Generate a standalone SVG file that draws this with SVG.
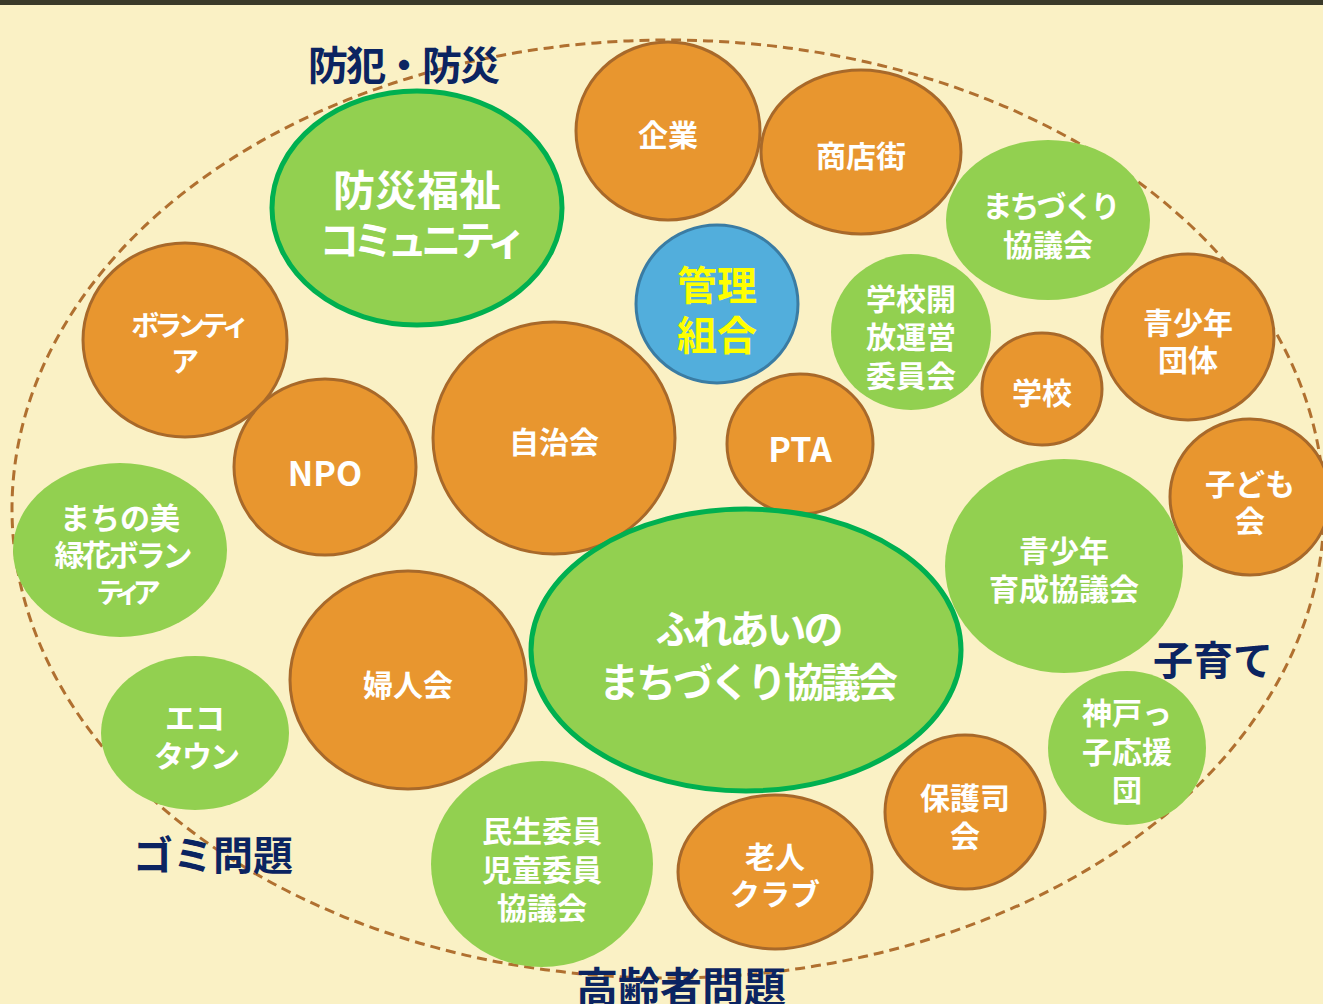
<svg xmlns="http://www.w3.org/2000/svg" width="1323" height="1004" viewBox="0 0 1323 1004">
<style>
text{font-family:"Noto Sans CJK JP","Noto Sans",sans-serif;font-weight:bold;text-anchor:middle;dominant-baseline:central}
.o{fill:#e8962f;stroke:#a8692a;stroke-width:3}
.g{fill:#92d050}
.gb{fill:#92d050;stroke:#00b050;stroke-width:5}
.b{fill:#52aedc;stroke:#3a7ca3;stroke-width:3}
.w{fill:#ffffff;font-size:30px}
.y{fill:#ffff00;font-size:40px}
.t{fill:#0b2461;font-size:40px}
</style>
<rect width="1323" height="1004" fill="#faf1c5"/>
<rect width="1323" height="5" fill="#3a3a2a"/>
<g id="connectors">
<ellipse cx="668" cy="509" rx="656" ry="469" fill="none" stroke="#b07030" stroke-width="3" stroke-dasharray="10 6"/>
</g>
<g id="label-bohan"><text class="t" x="403" y="63" letter-spacing="-2">防犯・防災</text></g>
<g id="label-kosodate"><text class="t" x="1213" y="658">子育て</text></g>
<g id="label-gomi"><text class="t" x="213" y="853">ゴミ問題</text></g>
<g id="label-koreisha"><text class="t" style="font-size:42px" x="681" y="984">高齢者問題</text></g>

<g id="kigyo"><ellipse class="o" cx="668" cy="131" rx="92" ry="89"/><text class="w" x="668" y="133">企業</text></g>
<g id="shotengai"><ellipse class="o" cx="861" cy="152" rx="100" ry="82"/><text class="w" x="861" y="154">商店街</text></g>
<g id="bousai"><ellipse class="gb" cx="417" cy="208" rx="145" ry="117"/><text class="w" style="font-size:42px" x="417" y="187">防災福祉</text><text class="w" style="font-size:40px" letter-spacing="-6" x="420" y="238">コミュニティ</text></g>
<g id="machizukuri"><ellipse class="g" cx="1048" cy="220" rx="102" ry="80"/><text class="w" letter-spacing="-3" x="1050" y="204">まちづくり</text><text class="w" x="1048" y="243">協議会</text></g>
<g id="kanri"><ellipse class="b" cx="717" cy="304" rx="81" ry="79"/><text class="y" x="717" y="283">管理</text><text class="y" x="717" y="333">組合</text></g>
<g id="gakkou-kaihou"><ellipse class="g" cx="911" cy="332" rx="80" ry="78"/><text class="w" x="911" y="297">学校開</text><text class="w" x="911" y="335">放運営</text><text class="w" x="911" y="374">委員会</text></g>
<g id="seishounen-dantai"><ellipse class="o" cx="1188" cy="337" rx="86" ry="83"/><text class="w" x="1188" y="321">青少年</text><text class="w" x="1188" y="358">団体</text></g>
<g id="gakkou"><ellipse class="o" cx="1042" cy="389" rx="60" ry="56"/><text class="w" x="1042" y="391">学校</text></g>
<g id="volunteer"><ellipse class="o" cx="185" cy="340" rx="102" ry="97"/><text class="w" style="font-size:28px" letter-spacing="-5" x="188" y="324">ボランティ</text><text class="w" style="font-size:28px" x="185" y="360">ア</text></g>
<g id="jichikai"><ellipse class="o" cx="554" cy="438" rx="121" ry="116"/><text class="w" x="554" y="440">自治会</text></g>
<g id="pta"><ellipse class="o" cx="800" cy="444" rx="73" ry="70"/><text class="w" style="font-size:34px" x="800" y="447">PTA</text></g>
<g id="npo"><ellipse class="o" cx="325" cy="467" rx="91" ry="88"/><text class="w" style="font-size:34px" x="325" y="471">NPO</text></g>
<g id="kodomokai"><ellipse class="o" cx="1250" cy="497" rx="80" ry="78"/><text class="w" x="1250" y="482">子ども</text><text class="w" x="1250" y="519">会</text></g>
<g id="ryokka"><ellipse class="g" cx="120" cy="550" rx="107" ry="87"/><text class="w" x="120" y="516">まちの美</text><text class="w" letter-spacing="-3" x="122" y="553">緑花ボラン</text><text class="w" style="font-size:28px" letter-spacing="-9" x="124" y="591">ティア</text></g>
<g id="seishounen-ikusei"><ellipse class="g" cx="1064" cy="566" rx="119" ry="107"/><text class="w" x="1064" y="549">青少年</text><text class="w" x="1064" y="587">育成協議会</text></g>
<g id="fureai"><ellipse class="gb" cx="746" cy="650" rx="215" ry="141"/><text class="w" style="font-size:40px" letter-spacing="-3" x="748" y="627">ふれあいの</text><text class="w" style="font-size:40px" letter-spacing="-3" x="747" y="680">まちづくり協議会</text></g>
<g id="fujinkai"><ellipse class="o" cx="408" cy="680" rx="118" ry="109"/><text class="w" x="408" y="683">婦人会</text></g>
<g id="ecotown"><ellipse class="g" cx="195" cy="733" rx="94" ry="77"/><text class="w" x="195" y="716">エコ</text><text class="w" letter-spacing="-2" x="196" y="754">タウン</text></g>
<g id="kobekko"><ellipse class="g" cx="1127" cy="748" rx="79" ry="77"/><text class="w" x="1127" y="711">神戸っ</text><text class="w" x="1127" y="750">子応援</text><text class="w" x="1127" y="788">団</text></g>
<g id="hogoshi"><ellipse class="o" cx="965" cy="812" rx="80" ry="77"/><text class="w" x="965" y="796">保護司</text><text class="w" x="965" y="834">会</text></g>
<g id="roujin"><ellipse class="o" cx="775" cy="872" rx="97" ry="77"/><text class="w" x="775" y="855">老人</text><text class="w" x="775" y="892">クラブ</text></g>
<g id="minsei"><ellipse class="g" cx="542" cy="864" rx="111" ry="103"/><text class="w" x="542" y="829">民生委員</text><text class="w" x="542" y="868">児童委員</text><text class="w" x="542" y="906">協議会</text></g>
</svg>
